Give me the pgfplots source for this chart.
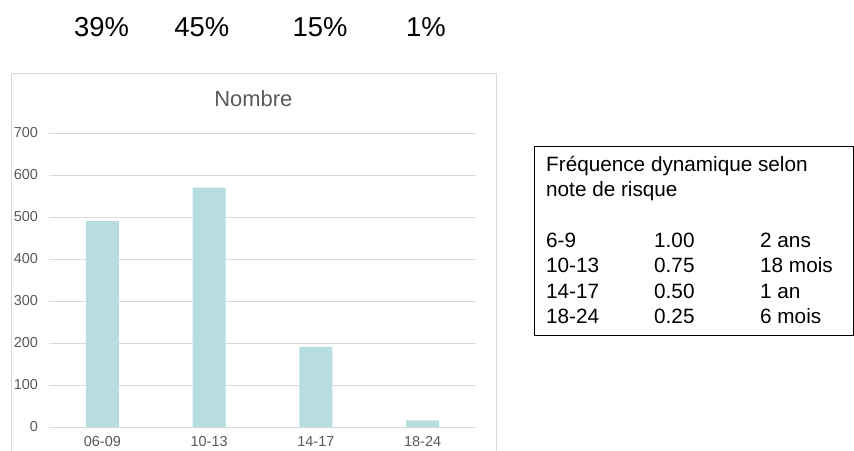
\documentclass[border=0pt]{standalone}
\usepackage{fontspec}
\setmainfont{Liberation Sans}
\usepackage{pgfplots}
\pgfplotsset{compat=1.18}
\definecolor{barc}{RGB}{183,221,224}
\definecolor{gridc}{RGB}{217,217,217}
\definecolor{txtc}{RGB}{89,89,89}
\begin{document}
\begin{tikzpicture}[x=1bp,y=1bp]
\useasboundingbox (0,0) rectangle (854,-451);
% chart frame
\draw[gridc, line width=0.8bp] (11,-73.3) rectangle (496.7,-470);
\begin{axis}[
  at={(49bp,-427bp)}, anchor=south west,
  scale only axis, width=427bp, height=294bp,
  xmin=-0.5, xmax=3.5, ymin=0, ymax=700,
  ytick={0,100,...,700},
  xtick={0,1,2,3},
  xticklabels={06-09,10-13,14-17,18-24},
  axis line style={draw=none},
  tick style={draw=none},
  ymajorgrids,
  grid style={gridc, line width=0.8bp},
  /pgf/number format/assume math mode=true,
  yticklabel style={font=\fontsize{14.5}{16}\selectfont, text=txtc, xshift=-7.5bp},
  xticklabel style={font=\fontsize{14.5}{16}\selectfont, text=txtc, yshift=-6bp},
  clip=false,
]
\addplot[ybar, bar width=33bp, fill=barc, draw=none] coordinates {(0,490) (1,570) (2,191) (3,16)};
\end{axis}
\node[anchor=base, text=txtc, font=\fontsize{22}{26}\selectfont, inner sep=0] at (253.3,-106.5) {Nombre};
% percentages
\begin{scope}[every node/.style={anchor=base, inner sep=0, font=\fontsize{27.5}{30}\selectfont}]
\node at (101.5,-37) {39\%};
\node at (201.7,-37) {45\%};
\node at (320,-37) {15\%};
\node at (426,-37) {1\%};
\end{scope}
% table box
\draw[black, line width=1bp] (534.5,-146.5) rectangle (853,-336);
\begin{scope}[every node/.style={anchor=base west, inner sep=0, font=\fontsize{20.8}{25}\selectfont}]
\node at (546,-172) {Fréquence dynamique selon};
\node at (546,-197) {note de risque};
\node at (546,-247.5) {6-9};   \node at (654,-247.5) {1.00}; \node at (760,-247.5) {2 ans};
\node at (546,-273) {10-13};   \node at (654,-273) {0.75};   \node at (760,-273) {18 mois};
\node at (546,-298.5) {14-17}; \node at (654,-298.5) {0.50}; \node at (760,-298.5) {1 an};
\node at (546,-324) {18-24};   \node at (654,-324) {0.25};   \node at (760,-324) {6 mois};
\end{scope}
\end{tikzpicture}
\end{document}
